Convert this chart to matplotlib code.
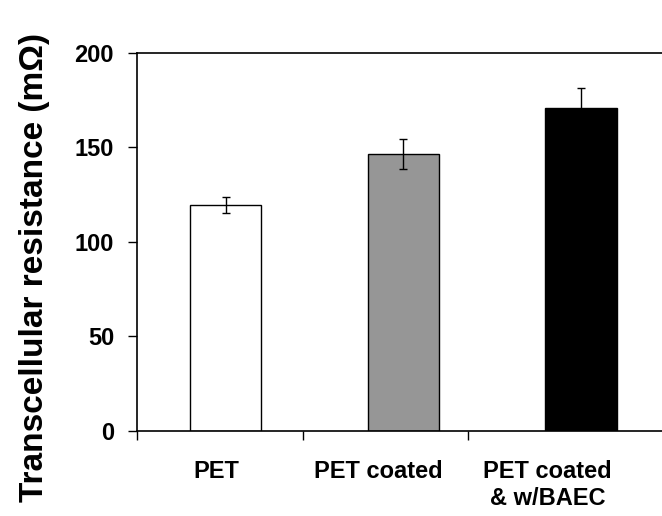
import numpy as np
import matplotlib
matplotlib.use('Agg')
import matplotlib.pyplot as plt

# values
categories = ['PET', 'PET coated', 'PET coated\n& w/BAEC']
resistance = [119.3, 146.6, 170.9]
errors = [4.2, 7.9, 10.3]
bar_colors = ['white', '#969696', 'black']
y_ticks = [0, 50, 100, 150, 200]

plt.rcParams['font.family'] = ['Liberation Sans', 'DejaVu Sans']
plt.rcParams['font.weight'] = 'bold'

fig = plt.figure(figsize=(6.62, 5.16), dpi=100)
ax = fig.add_axes([137 / 662, 1 - 430.7 / 516, 1 - 137 / 662, (430.7 - 52.7) / 516])

# bars sit a bit to the right of the category centres, as in the original
bar_pos = 0.535 + np.arange(len(resistance)) * 1.074
ax.bar(bar_pos, resistance, width=0.43, color=bar_colors, edgecolor='black',
       linewidth=1.0, zorder=2)
ax.errorbar(bar_pos, resistance, yerr=errors, fmt='none', ecolor='black',
            elinewidth=1.0, capsize=3, capthick=1.0, zorder=3)

ax.set_xlim(0, (662 - 137) / 165.5)
ax.set_ylim(0, 200)
ax.set_yticks(y_ticks)
ax.tick_params(axis='y', direction='out', length=6.5, width=1, labelsize=17, pad=10)

ax.set_xticks([0, 1, 2])
ax.set_xticklabels([])
ax.tick_params(axis='x', which='major', direction='out', length=6.5, width=1)
ax.set_xticks([0.48, 1.46, 2.48], minor=True)
ax.set_xticklabels(categories, minor=True, fontsize=17, fontweight='bold')
ax.tick_params(axis='x', which='minor', length=0, pad=21)
for lab in ax.get_xticklabels(minor=True):
    lab.set_linespacing(1.25)
for lab in ax.get_yticklabels():
    lab.set_fontweight('bold')

ax.spines['right'].set_visible(False)
for s in ['left', 'bottom', 'top']:
    ax.spines[s].set_linewidth(1.2)

fig.text(35 / 662, 1 - 268 / 516, 'Transcellular resistance (m\u03a9)', rotation=90,
         ha='center', va='center', fontsize=24, fontweight='bold')

fig.savefig('out.png', dpi=100)
